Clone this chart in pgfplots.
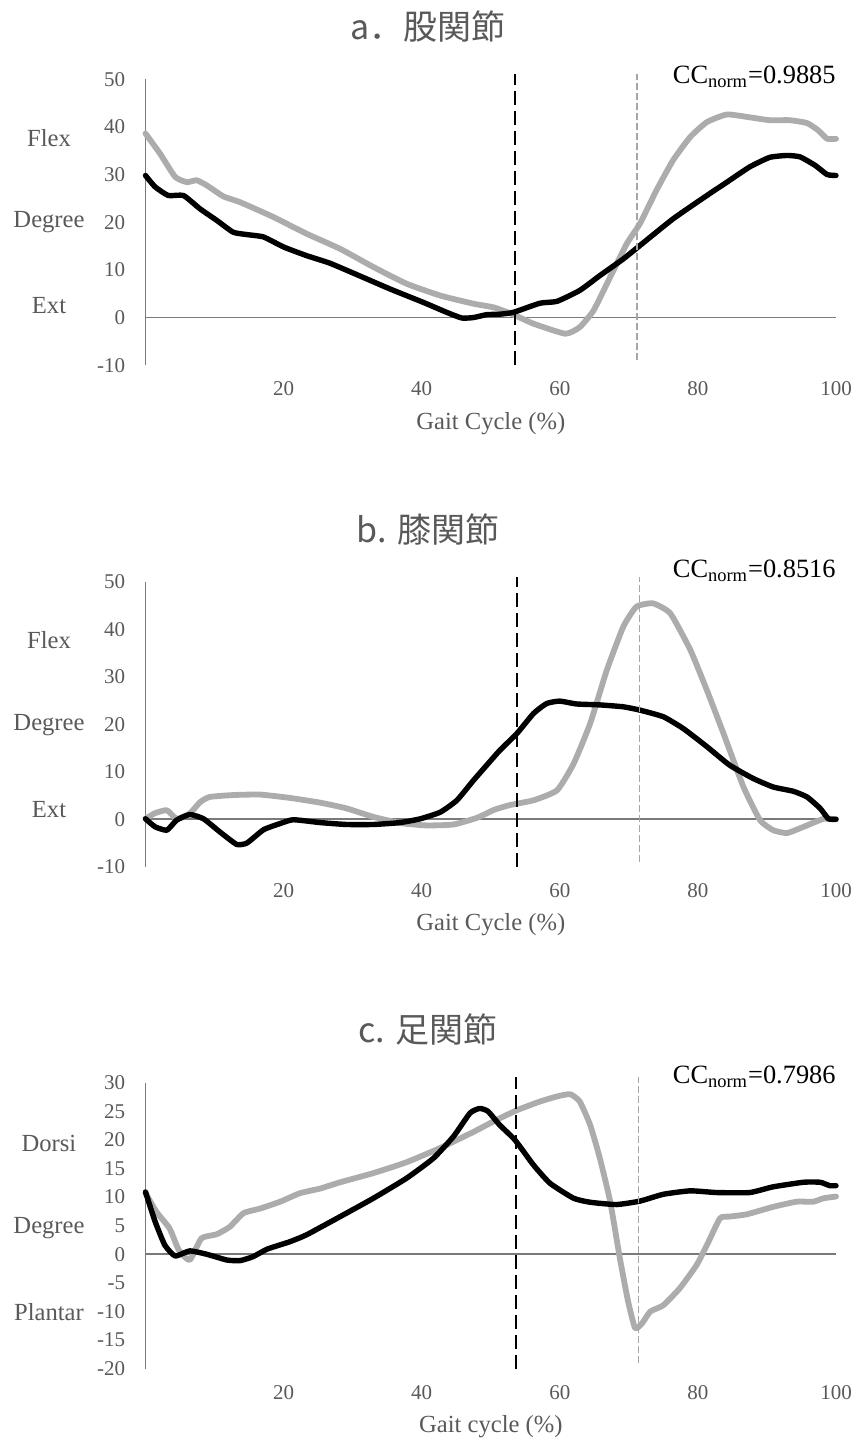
\documentclass[border=0pt]{standalone}
\usepackage{fontspec}
\setmainfont{Liberation Serif}
\newfontfamily\cjk{Noto Sans CJK JP}
\usepackage{pgfplots}
\pgfplotsset{compat=1.18}

\definecolor{txtgray}{HTML}{595959}
\definecolor{axgray}{HTML}{7A7A7A}
\definecolor{crvgray}{HTML}{AEABAB}
\definecolor{dshgray}{HTML}{A6A6A6}

% 1 px of the reference = 0.5pt
\pgfplotsset{
  gait/.style={
    scale only axis,
    width=345.25pt,
    xmin=0, xmax=100,
    xtick={20,40,60,80,100},
    axis lines*=left,
    x axis line style={draw=none},
    y axis line style={draw=axgray, line width=0.9pt},
    major tick length=0pt,
    tick label style={font=\fontsize{10.5}{12}\selectfont, text=txtgray},
    xticklabel style={anchor=north, inner sep=0pt, yshift=-8pt},
    yticklabel style={anchor=east, inner sep=0pt, xshift=-10pt},
    /pgf/number format/assume math mode=true,
    clip=false,
    anchor=south west,
  },
  gry/.style={crvgray, line width=2.9pt, smooth, tension=0.3, line join=round, line cap=round},
  blk/.style={black, line width=2.7pt, smooth, tension=0.3, line join=round, line cap=round},
  ev1/.style={black, line width=1pt, dash pattern=on 7pt off 3pt},
  ev2/.style={dshgray, line width=0.7pt, dash pattern=on 3.5pt off 1.5pt},
  zl/.style={axgray, line width=0.9pt},
}

\begin{document}
\begin{tikzpicture}
\path[use as bounding box] (0,0) rectangle (428pt,-721.5pt);

% ---------- a. hip ----------
\begin{axis}[gait, at={(72.75pt,-182.6pt)}, height=143pt,
    ymin=-10, ymax=50, ytick={-10,0,...,50}]
\addplot[zl] coordinates {(0,0) (100,0)};
\addplot[gry] coordinates {
(0,38.6)(2.1,34.4)(4.3,29.5)(6.0,28.4)(7.4,28.8)(8.9,27.7)(11.3,25.4)(13.7,24.2)
(18.5,21.1)(23.3,17.6)(28.2,14.4)(33.0,10.6)(37.8,7.1)(42.7,4.6)(47.5,2.9)(50.5,2.1)
(53.3,0.6)(56.2,-1.3)(60.8,-3.4)(62.9,-2.0)(64.9,1.5)(67.3,8.5)(69.7,15.5)(71.6,19.7)
(74.0,26.7)(76.4,33.0)(78.9,37.9)(81.3,41.0)(84.2,42.6)(87.5,42.0)(90.4,41.4)(93.3,41.4)
(95.8,40.8)(97.4,39.3)(98.7,37.5)(100,37.5)};
\addplot[blk] coordinates {
(0,29.8)(1.4,27.4)(3.3,25.6)(5.5,25.6)(7.9,22.8)(10.3,20.4)(12.7,17.9)(14.7,17.4)
(17.1,16.9)(20.0,14.8)(23.3,13.0)(26.7,11.4)(30.6,9.0)(35.4,6.0)(40.2,3.2)(43.6,1.1)
(45.8,-0.1)(47.5,0)(49.4,0.6)(51.3,0.7)(53.3,1.1)(57.1,3.0)(59.6,3.4)(62.9,5.7)
(65.8,8.8)(69.2,12.3)(71.6,15.1)(76.4,20.7)(81.3,25.6)(84.2,28.4)(87.5,31.6)(90.4,33.6)
(92.9,34.0)(94.8,33.7)(97.0,31.9)(98.7,30.0)(100,29.8)};
\addplot[ev1] coordinates {(53.5,-10) (53.5,51)};
\addplot[ev2] coordinates {(71.2,-9) (71.2,51)};
\end{axis}

% ---------- b. knee ----------
\begin{axis}[gait, at={(72.75pt,-433.35pt)}, height=142.35pt,
    ymin=-10, ymax=50, ytick={-10,0,...,50}]
\addplot[zl] coordinates {(0,0) (100,0)};
\addplot[gry] coordinates {
(0,0.1)(1.4,1.3)(3.1,1.9)(4.5,0.1)(6.4,1.2)(7.9,3.6)(9.3,4.7)(12.7,5.1)(16.6,5.2)
(20.9,4.5)(25.3,3.5)(29.1,2.3)(33.0,0.5)(36.9,-0.8)(40.7,-1.3)(44.6,-1.1)(48.0,0.3)
(50.5,2.0)(52.8,3.0)(56.2,4.0)(59.6,6.1)(62.0,11.7)(64.4,20.2)(66.8,31.4)(69.2,40.6)
(71.1,44.8)(73.5,45.5)(76.0,43.4)(78.9,35.7)(81.3,27.2)(83.7,18.1)(86.6,6.8)(89.0,-0.2)
(90.9,-2.3)(92.9,-2.9)(95.3,-1.6)(98.2,0.1)(100,0)};
\addplot[blk] coordinates {
(0,0.1)(1.4,-1.6)(3.1,-2.3)(4.5,-0.2)(6.4,1.0)(8.4,0.1)(10.8,-2.7)(13.2,-5.3)(14.7,-5.0)
(17.1,-2.2)(19.5,-0.9)(21.4,-0.1)(25.3,-0.7)(29.1,-1.1)(33.0,-1.1)(36.9,-0.7)(39.8,0.1)
(42.7,1.5)(45.1,4.0)(47.5,8.2)(49.6,11.7)(51.3,14.5)(53.8,18.1)(56.2,22.3)(58.1,24.4)
(60.0,24.9)(62.4,24.3)(65.8,24.1)(69.2,23.7)(71.6,23.0)(75.0,21.6)(77.9,19.1)(81.3,15.3)
(84.6,11.4)(88.0,8.6)(90.9,6.8)(93.8,5.9)(95.8,4.7)(97.7,2.3)(98.9,0.1)(100,0)};
\addplot[ev1] coordinates {(53.8,-10) (53.8,51)};
\addplot[ev2] coordinates {(71.5,-9) (71.5,51)};
\end{axis}

% ---------- c. ankle ----------
\begin{axis}[gait, at={(72.75pt,-684.35pt)}, height=143pt,
    ymin=-20, ymax=30, ytick={-20,-15,...,30}]
\addplot[zl] coordinates {(0,0) (100,0)};
\addplot[gry] coordinates {
(0,10.7)(1.6,7.4)(3.5,4.5)(4.8,0.8)(6.4,-1.0)(8.1,2.8)(10.3,3.5)(12.2,4.8)(14.2,7.2)
(16.6,8.0)(19.5,9.2)(22.4,10.7)(25.3,11.5)(28.2,12.6)(33.0,14.2)(37.8,16.1)(42.7,18.6)
(47.5,21.4)(50.5,23.3)(53.8,25.2)(57.1,26.7)(59.6,27.6)(61.5,28.0)(62.9,26.7)(64.4,22.6)
(65.8,16.8)(67.3,9.2)(68.7,-0.7)(69.9,-8.3)(70.9,-12.9)(71.9,-12.1)(73.1,-10.0)(75.0,-8.9)
(77.4,-5.9)(79.8,-1.9)(81.3,1.6)(83.2,6.3)(84.6,6.6)(87.1,7.0)(90.9,8.3)(94.3,9.2)
(96.7,9.2)(98.2,9.8)(100,10.1)};
\addplot[blk] coordinates {
(0,10.9)(1.4,5.7)(2.8,1.6)(4.3,-0.3)(6.4,0.6)(8.9,0.0)(11.8,-1.0)(13.7,-1.1)(15.6,-0.4)
(17.6,0.9)(20.9,2.2)(23.3,3.4)(28.2,6.6)(33.0,9.8)(37.8,13.3)(41.7,16.8)(44.6,20.6)
(47.0,24.7)(48.4,25.5)(49.6,25.0)(51.3,22.6)(53.5,20.0)(56.2,15.6)(58.6,12.4)(62.0,9.8)
(64.4,9.1)(68.2,8.7)(71.6,9.3)(75.0,10.5)(78.9,11.1)(82.7,10.8)(87.5,10.8)(90.9,11.8)
(95.3,12.6)(97.7,12.6)(99.1,12.0)(100,12.0)};
\addplot[ev1] coordinates {(53.7,-20) (53.7,31)};
\addplot[ev2] coordinates {(71.4,-19) (71.4,31)};
\end{axis}

% ---------- titles and side texts ----------
\begin{scope}[every node/.style={text=txtgray, inner sep=0pt}]
\node[font=\cjk\fontsize{17}{19}\selectfont] at (214pt,-13.5pt) {a．股関節};
\node[font=\cjk\fontsize{17}{19}\selectfont] at (214pt,-265pt) {b. 膝関節};
\node[font=\cjk\fontsize{17}{19}\selectfont] at (214pt,-515pt) {c. 足関節};
\foreach \yy/\tt in {69/Flex, 111/Degree, 153/Ext,
                     320/Flex, 362.5/Degree, 405/Ext,
                     571.5/Dorsi, 614/Degree, 656/Plantar}
  \node[font=\fontsize{12.3}{14}\selectfont] at (24.5pt,-\yy pt) {\tt};
\node[font=\fontsize{12.3}{14}\selectfont] at (245.4pt,-212pt) {Gait Cycle (\%)};
\node[font=\fontsize{12.3}{14}\selectfont] at (245.4pt,-462.5pt) {Gait Cycle (\%)};
\node[font=\fontsize{12.3}{14}\selectfont] at (245.4pt,-713.5pt) {Gait cycle (\%)};
\end{scope}
\begin{scope}[every node/.style={text=black, inner sep=0pt, anchor=east, font=\fontsize{13.2}{15}\selectfont}]
\node at (418pt,-38.5pt) {CC\textsubscript{norm}=0.9885};
\node at (418pt,-285.5pt) {CC\textsubscript{norm}=0.8516};
\node at (418pt,-538.5pt) {CC\textsubscript{norm}=0.7986};
\end{scope}
\end{tikzpicture}
\end{document}
